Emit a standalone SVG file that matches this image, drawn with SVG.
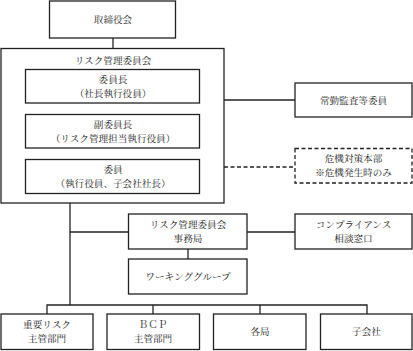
<svg xmlns="http://www.w3.org/2000/svg" width="413" height="351" viewBox="0 0 413 351">
<style>
.b{fill:#fff;stroke:#222;stroke-width:1.3}
.d{fill:#fff;stroke:#222;stroke-width:1.3;stroke-dasharray:4 2.5}
.l{fill:none;stroke:#222;stroke-width:1.3}
.dl{fill:none;stroke:#222;stroke-width:1.3;stroke-dasharray:4 2.5}
text{font-family:"Noto Serif CJK JP","Noto Sans CJK JP",serif;font-size:9.6px;fill:#222;text-anchor:middle}
</style>
<rect width="413" height="351" fill="#fff"/>
<g id="connectors">
<line class="l" x1="113" y1="38" x2="113" y2="48"/>
<line class="l" x1="224" y1="100" x2="295" y2="100"/>
<line class="dl" x1="224" y1="167" x2="295" y2="167"/>
<line class="l" x1="70" y1="203" x2="70" y2="305"/>
<line class="l" x1="70" y1="232" x2="128" y2="232"/>
<line class="l" x1="247" y1="232" x2="295" y2="232"/>
<line class="l" x1="188" y1="249" x2="188" y2="259"/>
<polyline class="l" points="47,314 47,305 367,305 367,314"/>
<line class="l" x1="153" y1="305" x2="153" y2="314"/>
<line class="l" x1="260" y1="305" x2="260" y2="314"/>
</g>
<g id="board"><rect class="b" x="49.5" y="1" width="126" height="37"/><text x="113" y="23">取締役会</text></g>
<g id="committee"><rect class="b" x="1" y="48.5" width="223" height="154.5"/><text x="113" y="64">リスク管理委員会</text>
<g id="chair"><rect class="b" x="25.5" y="69.5" width="174" height="33.5"/><text x="113" y="83">委員長</text><text x="113" y="97">（社長執行役員）</text></g>
<g id="vicechair"><rect class="b" x="25.5" y="114.5" width="174" height="33.5"/><text x="113" y="128">副委員長</text><text x="113" y="142">（リスク管理担当執行役員）</text></g>
<g id="members"><rect class="b" x="25.5" y="159.5" width="174" height="34"/><text x="113" y="173">委員</text><text x="113" y="187">（執行役員、子会社社長）</text></g>
</g>
<g id="audit"><rect class="b" x="295" y="83" width="117" height="34"/><text x="353.5" y="104">常勤監査等委員</text></g>
<g id="crisis"><rect class="d" x="295" y="148.5" width="117" height="34.5"/><text x="353.5" y="162">危機対策本部</text><text x="353.5" y="176">※危機発生時のみ</text></g>
<g id="secretariat"><rect class="b" x="128.5" y="214" width="118.5" height="35"/><text x="188" y="228">リスク管理委員会</text><text x="188" y="242">事務局</text></g>
<g id="compliance"><rect class="b" x="295" y="214" width="117" height="35"/><text x="353.5" y="228">コンプライアンス</text><text x="353.5" y="242">相談窓口</text></g>
<g id="wg"><rect class="b" x="128.5" y="259" width="118.5" height="35"/><text x="188" y="280">ワーキンググループ</text></g>
<g id="riskdept"><rect class="b" x="1" y="314" width="92" height="35.5"/><text x="47" y="328">重要リスク</text><text x="47" y="342">主管部門</text></g>
<g id="bcp"><rect class="b" x="107" y="314" width="92.5" height="35.5"/><text x="153" y="328">ＢＣＰ</text><text x="153" y="342">主管部門</text></g>
<g id="bureaus"><rect class="b" x="213.5" y="314" width="92.5" height="35.5"/><text x="260" y="335">各局</text></g>
<g id="subsidiaries"><rect class="b" x="320.5" y="314" width="91.5" height="35.5"/><text x="366.5" y="335">子会社</text></g>
</svg>
